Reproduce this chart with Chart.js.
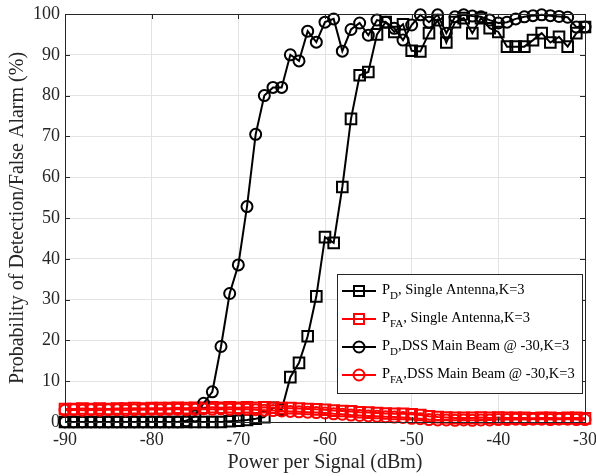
<!DOCTYPE html>
<html>
<head>
<meta charset="utf-8">
<script src="https://cdn.jsdelivr.net/npm/chart.js@4.4.1/dist/chart.umd.min.js"></script>
<style>
  body { margin: 0; background: #fff; }
  #wrap { width: 596px; height: 476px; }
</style>
</head>
<body>
<div id="wrap"><canvas id="grafico" width="596" height="476"></canvas></div>
<script>
// dados

var potencia = [-90, -89, -88, -87, -86, -85, -84, -83, -82, -81, -80,
  -79, -78, -77, -76, -75, -74, -73, -72, -71, -70,
  -69, -68, -67, -66, -65, -64, -63, -62, -61, -60,
  -59, -58, -57, -56, -55, -54, -53, -52, -51, -50,
  -49, -48, -47, -46, -45, -44, -43, -42, -41, -40,
  -39, -38, -37, -36, -35, -34, -33, -32, -31, -30];

var pdSingle = [0, 0, 0, 0, 0, 0, 0, 0, 0, 0, 0,
  0, 0, 0, 0, 0, 0, 0, 0, 0.2, 0.3,
  0.5, 0.8, 1.2, 3.5, 3.0, 11, 14.5, 21, 30.8, 45.3,
  43.9, 57.6, 74.3, 85, 85.8, 95, 98, 95.6, 97.5, 91,
  90.8, 95.3, 98.5, 93, 98, 99, 95.3, 99, 96.5, 95.6,
  92, 92, 92, 93.6, 95.3, 93, 94.4, 92, 95.3, 96.8];

var pfaSingle = [3.2, 3.2, 3.3, 3.2, 3.3, 3.2, 3.3, 3.3, 3.4, 3.3, 3.4,
  3.4, 3.4, 3.5, 3.4, 3.5, 3.5, 3.6, 3.5, 3.6, 3.5,
  3.6, 3.5, 3.6, 3.5, 3.4, 3.4, 3.3, 3.2, 3.1, 3.0,
  2.8, 2.7, 2.6, 2.4, 2.3, 2.2, 2.1, 2.0, 2.0, 1.9,
  1.7, 1.4, 1.2, 1.1, 1.0, 1.0, 1.0, 1.1, 1.0, 1.1,
  1.0, 1.0, 1.0, 0.9, 1.0, 1.0, 0.9, 1.0, 1.0, 0.9];

var pdDss = [0, 0, 0, 0, 0, 0, 0, 0, 0, 0, 0,
  0, 0, 0, 0.3, 1.5, 4.6, 7.4, 18.5, 31.5, 38.5,
  52.8, 70.5, 80, 82, 82, 90, 88.5, 95.8, 93.1, 98,
  98.8, 90.9, 96.2, 97.8, 94.8, 98.5, 98, 96.5, 93.6, 97.3,
  99.8, 98, 99.8, 95.3, 99.3, 99.8, 99.5, 99.3, 98.5, 97.8,
  98, 98.8, 99.3, 99.6, 99.8, 99.6, 99.4, 99.2, 96.8, 96.8];

var pfaDss = [2.9, 3.0, 2.9, 3.0, 2.9, 3.0, 3.0, 2.9, 3.0, 3.0, 3.1,
  3.0, 3.1, 3.1, 3.0, 3.1, 3.2, 3.1, 3.2, 3.1, 3.2,
  3.1, 3.0, 2.9, 2.8, 2.7, 2.6, 2.5, 2.4, 2.3, 2.2,
  2.0, 1.9, 1.7, 1.6, 1.5, 1.4, 1.3, 1.2, 1.1, 0.9,
  0.8, 0.6, 0.5, 0.5, 0.4, 0.5, 0.4, 0.5, 0.5, 0.6,
  0.6, 0.7, 0.6, 0.7, 0.7, 0.6, 0.7, 0.7, 0.6, 0.6];

var xTicks = [-90, -80, -70, -60, -50, -40, -30];
var yTicks = [0, 10, 20, 30, 40, 50, 60, 70, 80, 90, 100];

// legenda: [texto principal, subscrito, resto, cor, marcador]
var legendas = [
  ['P', 'D', ', Single Antenna,K=3', '#000000', 'rect'],
  ['P', 'FA', ', Single Antenna,K=3', '#ff0000', 'rect'],
  ['P', 'D', ',DSS Main Beam @ -30,K=3', '#000000', 'circle'],
  ['P', 'FA', ',DSS Main Beam @ -30,K=3', '#ff0000', 'circle']
];

function pontos(valores) {
  return potencia.map(function (p, i) { return {x: p, y: valores[i]}; });
}

function serie(valores, cor, estilo, ordem) {
  return {
    data: pontos(valores),
    borderColor: cor,
    backgroundColor: 'transparent',
    borderWidth: 2,
    pointStyle: estilo,
    pointRadius: estilo === 'rect' ? 7.5 : 5.5,
    pointBorderWidth: 2,
    pointBorderColor: cor,
    pointBackgroundColor: 'transparent',
    tension: 0,
    clip: false,
    order: ordem
  };
}

// moldura, ticks internos e legenda
var moldura = {
  id: 'moldura',
  afterDraw: function (chart) {
    var ctx = chart.ctx;
    var a = chart.chartArea;
    var sx = chart.scales.x, sy = chart.scales.y;
    ctx.save();
    ctx.strokeStyle = '#262626';
    ctx.lineWidth = 1;
    ctx.strokeRect(Math.round(a.left) + 0.5, Math.round(a.top) + 0.5,
      Math.round(a.right - a.left), Math.round(a.bottom - a.top));
    var t = 5;
    ctx.beginPath();
    xTicks.forEach(function (v) {
      var px = Math.round(sx.getPixelForValue(v)) + 0.5;
      ctx.moveTo(px, a.bottom); ctx.lineTo(px, a.bottom - t);
      ctx.moveTo(px, a.top); ctx.lineTo(px, a.top + t);
    });
    yTicks.forEach(function (v) {
      var py = Math.round(sy.getPixelForValue(v)) + 0.5;
      ctx.moveTo(a.left, py); ctx.lineTo(a.left + t, py);
      ctx.moveTo(a.right, py); ctx.lineTo(a.right - t, py);
    });
    ctx.stroke();

    // caixa da legenda
    var bx = 337, by = 274, bw = 245, bh = 119;
    ctx.fillStyle = '#ffffff';
    ctx.fillRect(bx, by, bw, bh);
    ctx.strokeStyle = '#262626';
    ctx.strokeRect(bx + 0.5, by + 0.5, bw, bh);
    legendas.forEach(function (l, i) {
      var ly = 291 + i * 28;
      ctx.strokeStyle = l[3];
      ctx.lineWidth = 2;
      ctx.beginPath();
      ctx.moveTo(342, ly); ctx.lineTo(376, ly);
      ctx.stroke();
      ctx.beginPath();
      if (l[4] === 'rect') {
        ctx.rect(354, ly - 5, 10, 10);
      } else {
        ctx.arc(359, ly, 5.5, 0, Math.PI * 2);
      }
      ctx.stroke();
      ctx.fillStyle = '#000000';
      ctx.textBaseline = 'alphabetic';
      ctx.font = '14.5px "Liberation Serif"';
      var x0 = 382;
      ctx.fillText(l[0], x0, ly + 3);
      x0 += ctx.measureText(l[0]).width;
      ctx.font = '11px "Liberation Serif"';
      ctx.fillText(l[1], x0, ly + 8);
      x0 += ctx.measureText(l[1]).width;
      ctx.font = '14.5px "Liberation Serif"';
      ctx.fillText(l[2], x0, ly + 3);
    });
    ctx.restore();
  }
};

var ctx = document.getElementById('grafico');

var grafico = new Chart(ctx, {
  type: 'line',
  data: {
    datasets: [
      serie(pdSingle, '#000000', 'rect', 4),
      serie(pfaSingle, '#ff0000', 'rect', 3),
      serie(pdDss, '#000000', 'circle', 2),
      serie(pfaDss, '#ff0000', 'circle', 1)
    ]
  },
  options: {
    responsive: false,
    animation: false,
    devicePixelRatio: 1,
    layout: { autoPadding: false, padding: { left: 0, right: 11, top: 14, bottom: 0 } },
    plugins: { legend: { display: false }, tooltip: { enabled: false } },
    scales: {
      x: {
        type: 'linear',
        min: -90,
        max: -30,
        afterFit: function (s) { s.height = 54; s.paddingLeft = 0; s.paddingRight = 0; },
        afterBuildTicks: function (s) { s.ticks = xTicks.map(function (v) { return {value: v}; }); },
        grid: { color: '#e3e3e3', lineWidth: 1, drawTicks: false },
        border: { display: false },
        ticks: { padding: 7, color: '#262626', font: { family: 'Liberation Serif', size: 18 }, maxRotation: 0 },
        title: {
          display: true,
          text: 'Power per Signal (dBm)',
          color: '#262626',
          font: { family: 'Liberation Serif', size: 20 },
          padding: { top: 0, bottom: 1 }
        }
      },
      y: {
        type: 'linear',
        min: 0,
        max: 100,
        afterFit: function (s) { s.width = 65; s.paddingTop = 0; s.paddingBottom = 0; },
        afterBuildTicks: function (s) { s.ticks = yTicks.map(function (v) { return {value: v}; }); },
        grid: { color: '#e3e3e3', lineWidth: 1, drawTicks: false },
        border: { display: false },
        ticks: { padding: 5, color: '#262626', font: { family: 'Liberation Serif', size: 18 } },
        title: {
          display: true,
          text: 'Probability of Detection/False Alarm (%)',
          color: '#262626',
          font: { family: 'Liberation Serif', size: 20 },
          padding: { top: 6, bottom: 0 }
        }
      }
    }
  },
  plugins: [moldura]
});
</script>
</body>
</html>
